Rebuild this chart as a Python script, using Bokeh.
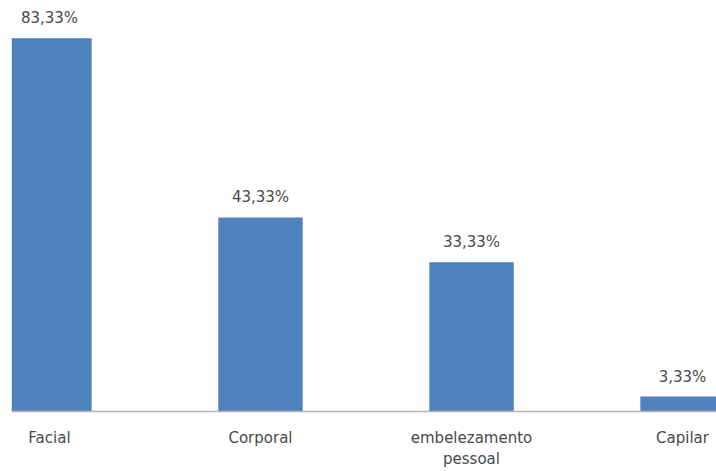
from bokeh.plotting import figure
from bokeh.models import ColumnDataSource, LabelSet, FixedTicker, Range1d
from bokeh.core.properties import value
from bokeh.embed import file_html
from bokeh.resources import INLINE

categories = ["Facial", "Corporal", "embelezamento\npessoal", "Capilar"]
values = [83.33, 43.33, 33.33, 3.33]
value_labels = [f"{v:.2f}%".replace(".", ",") for v in values]
xs = list(range(len(categories)))

source = ColumnDataSource(dict(x=xs, top=values, label=value_labels))

p = figure(width=716, height=471, output_backend="svg", toolbar_location=None,
           x_range=Range1d(-0.18, 3.161), y_range=Range1d(0, 90),
           min_border_left=11, min_border_right=0, min_border_top=8, min_border_bottom=60)
p.outline_line_color = None
p.grid.visible = False
p.yaxis.visible = False

p.vbar(x="x", top="top", width=0.4, bottom=0, source=source,
       fill_color="#4f81bd", line_color=None)

labels = LabelSet(x="x", y="top", text="label", source=source,
                  text_align="center", text_baseline="bottom", y_offset=11,
                  text_font=value("DejaVu Sans"), text_font_size="15px", text_color="#4a4a4a")
p.add_layout(labels)

ax = p.xaxis[0]
ax.ticker = FixedTicker(ticks=xs)
ax.major_label_overrides = {i: c for i, c in zip(xs, categories)}
ax.major_tick_line_color = None
ax.minor_tick_line_color = None
ax.axis_line_color = "#b3b3b3"
ax.axis_line_width = 1.5
ax.major_label_standoff = 11
ax.major_label_text_font = "DejaVu Sans"
ax.major_label_text_font_size = "15px"
ax.major_label_text_line_height = 1.2
ax.major_label_text_color = "#4a4a4a"

open("out.html", "w").write(file_html(p, INLINE))
